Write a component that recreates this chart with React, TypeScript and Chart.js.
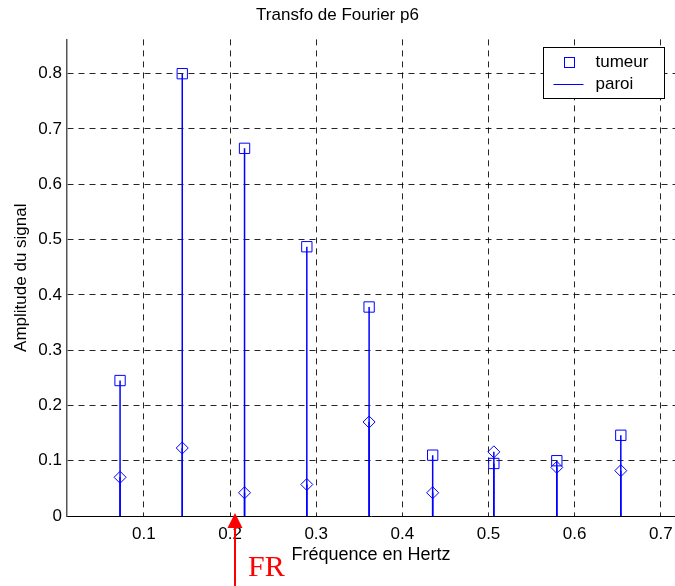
import React, { useEffect, useRef } from "react";
import { Chart, registerables } from "chart.js";

Chart.register(...registerables);

// ---- data ----
const FREQS = [0.0723, 0.1445, 0.2168, 0.2891, 0.3614, 0.4352, 0.5062, 0.5793, 0.6536];
const TUMEUR = [0.245, 0.8, 0.665, 0.487, 0.378, 0.11, 0.095, 0.1, 0.146];
const PAROI = [0.07, 0.123, 0.042, 0.057, 0.17, 0.042, 0.116, 0.088, 0.082];
const SERIES_LABELS = ["tumeur", "paroi"];

const X_TICKS = [0.1, 0.2, 0.3, 0.4, 0.5, 0.6, 0.7];
const X_TICK_LABELS = ["0.1", "0.2", "0.3", "0.4", "0.5", "0.6", "0.7"];
const Y_TICKS = [0, 0.1, 0.2, 0.3, 0.4, 0.5, 0.6, 0.7, 0.8];
const Y_TICK_LABELS = ["0", "0.1", "0.2", "0.3", "0.4", "0.5", "0.6", "0.7", "0.8"];

const X_MIN = 0.0107;
const X_MAX = 0.7165;
const Y_MIN = 0;
const Y_MAX = 0.862;

const TITLE = "Transfo de Fourier p6";
const X_TITLE = "Fréquence en Hertz";
const Y_TITLE = "Amplitude du signal";
const FR_LABEL = "FR";
const FR_FREQ = 0.2056;

const BLUE = "#0000ff";
const SANS = '"Liberation Sans", Arial, Helvetica, sans-serif';

const stemPlugin = {
  id: "stems",
  beforeDatasetsDraw(chart: any) {
    const { ctx, scales, chartArea } = chart;
    const x = scales.x;
    const y = scales.y;
    const y0 = y.getPixelForValue(0);
    ctx.save();
    ctx.beginPath();
    ctx.rect(chartArea.left, chartArea.top, chartArea.right - chartArea.left, chartArea.bottom - chartArea.top + 1);
    ctx.clip();
    chart.data.datasets.forEach((ds: any) => {
      ctx.strokeStyle = ds.borderColor;
      ctx.lineWidth = 1.5;
      ds.data.forEach((p: any) => {
        const px = x.getPixelForValue(p.x);
        ctx.beginPath();
        ctx.moveTo(px, y0);
        ctx.lineTo(px, y.getPixelForValue(p.y));
        ctx.stroke();
      });
    });
    ctx.restore();
  },
};

const boxLegendPlugin = {
  id: "boxLegend",
  afterDraw(chart: any) {
    const { ctx, chartArea } = chart;
    const ds = chart.data.datasets;
    const w = 121;
    const h = 51;
    const left = Math.round(chartArea.right - 11 - w) + 0.5;
    const top = Math.round(chartArea.top + 8) + 0.5;
    ctx.save();
    ctx.fillStyle = "#ffffff";
    ctx.fillRect(left, top, w, h);
    ctx.strokeStyle = "#000000";
    ctx.lineWidth = 1;
    ctx.strokeRect(left, top, w, h);

    // item 1: square marker
    ctx.strokeStyle = ds[0].borderColor;
    ctx.strokeRect(left + 26 - 5, top + 15 - 5, 10, 10);
    // item 2: line
    ctx.strokeStyle = ds[1].borderColor;
    ctx.beginPath();
    ctx.moveTo(left + 10, top + 37);
    ctx.lineTo(left + 40, top + 37);
    ctx.stroke();

    ctx.fillStyle = "#000000";
    ctx.font = `17px ${SANS}`;
    ctx.textAlign = "left";
    ctx.textBaseline = "middle";
    ctx.fillText(ds[0].label, left + 52, top + 15);
    ctx.fillText(ds[1].label, left + 52, top + 37);
    ctx.restore();
  },
};

const frArrowPlugin = {
  id: "frArrow",
  afterDraw(chart: any) {
    const { ctx, scales } = chart;
    const px = Math.round(scales.x.getPixelForValue(FR_FREQ));
    const y0 = scales.y.getPixelForValue(0);
    ctx.save();
    ctx.strokeStyle = "#ff0000";
    ctx.fillStyle = "#ff0000";
    ctx.lineWidth = 2;
    ctx.beginPath();
    ctx.moveTo(px, chart.height);
    ctx.lineTo(px, y0 + 12);
    ctx.stroke();
    ctx.beginPath();
    ctx.moveTo(px, y0 - 3);
    ctx.lineTo(px - 7.5, y0 + 12);
    ctx.lineTo(px + 7.5, y0 + 12);
    ctx.closePath();
    ctx.fill();
    ctx.font = '30px "Liberation Serif", "Times New Roman", serif';
    ctx.textAlign = "left";
    ctx.textBaseline = "alphabetic";
    ctx.fillText(FR_LABEL, px + 13, y0 + 60);
    ctx.restore();
  },
};

export default function App() {
  const canvasRef = useRef<HTMLCanvasElement | null>(null);

  useEffect(() => {
    document.body.style.margin = "0";
    document.body.style.overflow = "hidden";
    const canvas = canvasRef.current;
    if (!canvas) return;

    const chart = new Chart(canvas, {
      type: "scatter",
      data: {
        datasets: [
          {
            label: SERIES_LABELS[0],
            data: FREQS.map((f, i) => ({ x: f, y: TUMEUR[i] })),
            borderColor: BLUE,
            backgroundColor: "rgba(0,0,0,0)",
            pointStyle: "rect",
            pointRadius: 7.3,
            pointBorderWidth: 1,
            showLine: false,
          },
          {
            label: SERIES_LABELS[1],
            data: FREQS.map((f, i) => ({ x: f, y: PAROI[i] })),
            borderColor: BLUE,
            backgroundColor: "rgba(0,0,0,0)",
            pointStyle: "rectRot",
            pointRadius: 6,
            pointBorderWidth: 1,
            showLine: false,
          },
        ],
      },
      options: {
        responsive: false,
        maintainAspectRatio: false,
        animation: false,
        devicePixelRatio: 1,
        events: [],
        layout: { padding: 0, autoPadding: false },
        font: { family: SANS },
        plugins: {
          legend: { display: false },
          tooltip: { enabled: false },
          title: {
            display: true,
            text: TITLE,
            color: "#000",
            font: { family: SANS, size: 17, weight: "normal" },
            padding: { top: 5, bottom: 14 },
          },
        },
        scales: {
          x: {
            type: "linear",
            position: "bottom",
            min: X_MIN,
            max: X_MAX,
            afterFit(scale: any) {
              scale.height = 70;
              scale.paddingLeft = 0;
              scale.paddingRight = 0;
            },
            afterBuildTicks(scale: any) {
              scale.ticks = X_TICKS.map((v) => ({ value: v }));
            },
            ticks: {
              color: "#000",
              font: { family: SANS, size: 17 },
              padding: 8,
              maxRotation: 0,
              autoSkip: false,
              callback: (v: any) => {
                const i = X_TICKS.findIndex((t) => Math.abs(t - Number(v)) < 1e-9);
                return i >= 0 ? X_TICK_LABELS[i] : "";
              },
            },
            grid: {
              color: "rgba(0,0,0,0.85)",
              lineWidth: 1,
              drawTicks: false,
            },
            border: { display: true, color: "#000", width: 1, dash: [6, 5] },
            title: {
              display: true,
              text: X_TITLE,
              color: "#000",
              font: { family: SANS, size: 18 },
              padding: { top: 0, bottom: 20 },
            },
          },
          y: {
            type: "linear",
            position: "left",
            min: Y_MIN,
            max: Y_MAX,
            afterFit(scale: any) {
              scale.width = 67;
              scale.paddingTop = 0;
              scale.paddingBottom = 0;
            },
            afterBuildTicks(scale: any) {
              scale.ticks = Y_TICKS.map((v) => ({ value: v }));
            },
            ticks: {
              color: "#000",
              font: { family: SANS, size: 17 },
              padding: 5,
              autoSkip: false,
              callback: (v: any) => {
                const i = Y_TICKS.findIndex((t) => Math.abs(t - Number(v)) < 1e-9);
                return i >= 0 ? Y_TICK_LABELS[i] : "";
              },
            },
            grid: {
              color: "rgba(0,0,0,0.85)",
              lineWidth: 1,
              drawTicks: false,
            },
            border: { display: true, color: "#555", width: 1.5, dash: [6, 5] },
            title: {
              display: true,
              text: Y_TITLE,
              color: "#000",
              font: { family: SANS, size: 17 },
              padding: { top: 11, bottom: 0 },
            },
          },
        },
      } as any,
      plugins: [stemPlugin, boxLegendPlugin, frArrowPlugin],
    });

    return () => {
      chart.destroy();
    };
  }, []);

  return (
    <canvas
      ref={canvasRef}
      width={675}
      height={586}
      style={{ display: "block", width: 675, height: 586 }}
    />
  );
}
